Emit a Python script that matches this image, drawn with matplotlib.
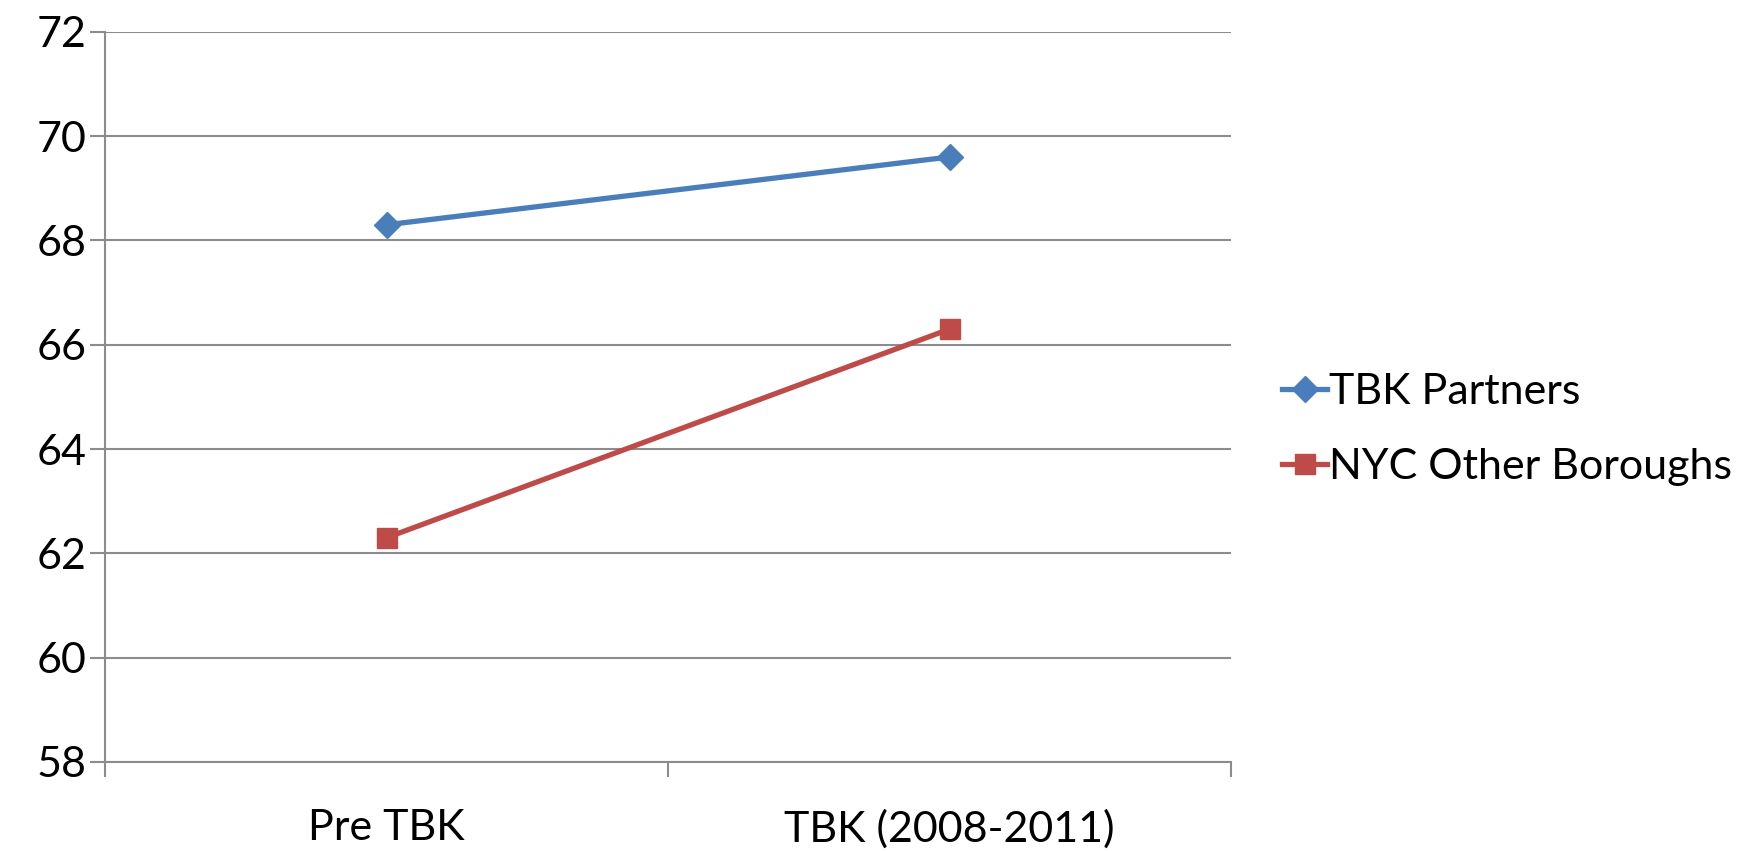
import matplotlib.pyplot as plt
from matplotlib.ticker import FixedLocator, NullFormatter

plt.rcParams['font.family'] = ['Lato', 'DejaVu Sans']

periods = ["Pre TBK", "TBK (2008-2011)"]
tbk_partners = [68.3, 69.6]
nyc_other = [62.3, 66.3]
y_ticks = [58, 60, 62, 64, 66, 68, 70, 72]

fig = plt.figure(figsize=(17.39, 8.51), dpi=100)
ax = fig.add_axes([0.0604, 0.1046, 0.6475, 0.858])

xs = [i + 0.5 for i in range(len(periods))]
ax.plot(xs, tbk_partners, color="#4A7EBB", lw=3.8, marker="D", ms=13,
        label="TBK Partners", zorder=3)
ax.plot(xs, nyc_other, color="#BE4B48", lw=3.8, marker="s", ms=15,
        label="NYC Other Boroughs", zorder=3)

ax.set_xlim(0, len(periods))
ax.set_ylim(58, 72)
ax.set_yticks(y_ticks)
ax.yaxis.grid(True, color="#8C8C8C", lw=1.5)
ax.set_axisbelow(True)

# category boundaries get the tick marks, labels sit in between
ax.xaxis.set_major_locator(FixedLocator(range(len(periods) + 1)))
ax.xaxis.set_major_formatter(NullFormatter())
ax.xaxis.set_minor_locator(FixedLocator(xs))
ax.set_xticklabels(periods, minor=True)
ax.tick_params(axis="x", which="major", length=11, width=1.5, color="#8C8C8C")
ax.tick_params(axis="x", which="minor", length=0, pad=34, labelsize=31)
ax.tick_params(axis="y", length=11, width=1.5, color="#8C8C8C", pad=2, labelsize=31)

for side in ["top", "right"]:
    ax.spines[side].set_visible(False)
for side in ["left", "bottom"]:
    ax.spines[side].set_color("#8C8C8C")
    ax.spines[side].set_linewidth(1.5)

ax.legend(loc="center left", bbox_to_anchor=(1.03, 0.455), frameon=False,
          fontsize=31, handlelength=1.05, handletextpad=0.05, labelspacing=0.85,
          borderaxespad=0)

fig.savefig("out.png", dpi=100)
